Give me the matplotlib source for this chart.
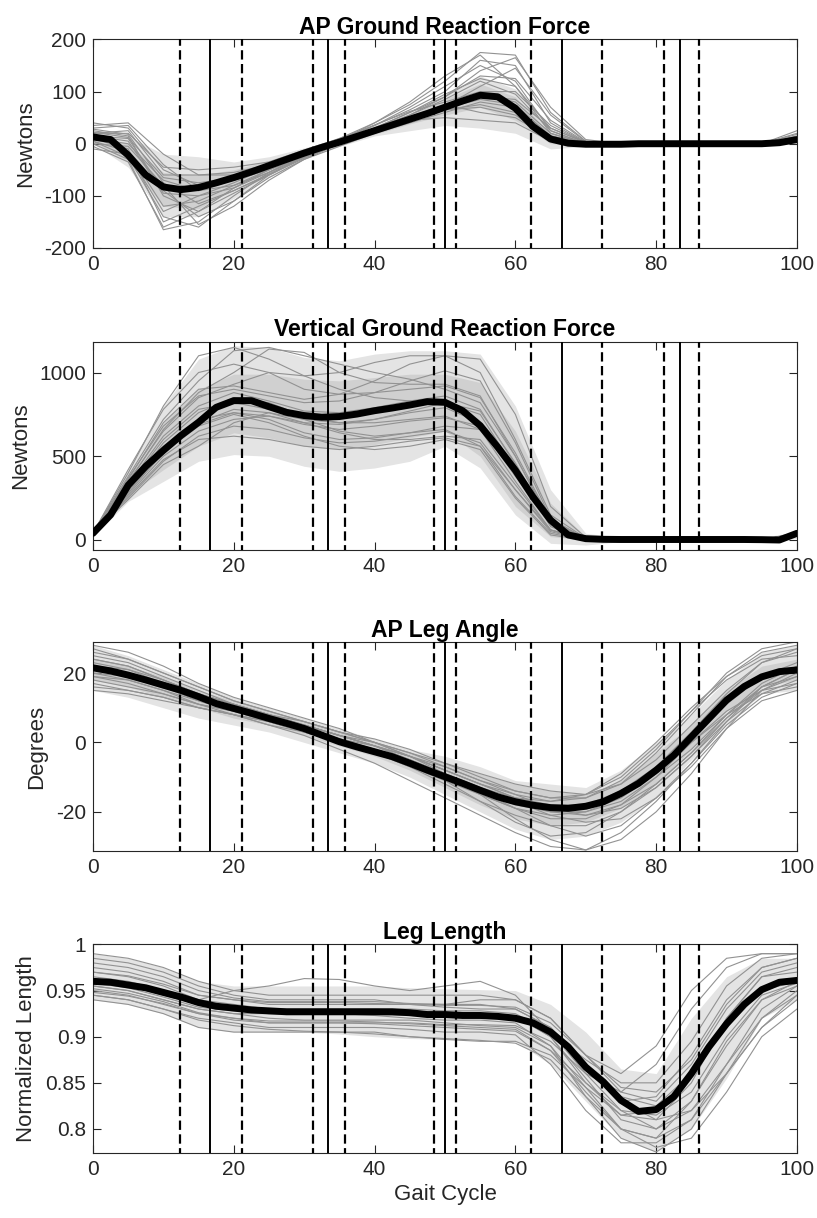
"""Gait cycle summary: GRFs, leg angle and leg length with event markers."""

import numpy as np
from matplotlib import pyplot as plt

plt.rcParams['font.family'] = ['Liberation Sans', 'DejaVu Sans']

# mean curves sampled every 2.5 % of the gait cycle
mean_x = np.arange(0, 100.1, 2.5)
# individual trials and bands sampled every 5 %
trial_x = np.arange(0, 100.1, 5)

solid_events = [16.67, 33.33, 50.0, 66.67, 83.33]
dashed_events = [12.4, 21.2, 31.2, 35.8, 48.5, 51.6, 62.2, 72.3, 81.1, 86.1]

# ---- AP ground reaction force ----
ap_grf_mean = [13, 8, -22, -60, -83, -88, -84, -75, -65, -54, -42, -30, -18, -7, 3, 14,
               25, 36, 47, 58, 70, 82, 93, 90, 68, 33, 9, 1, -1, -1, -1, 0, 0, 0, 0, 0,
               0, 0, 0, 2, 8]
ap_grf_outer_hi = [25, 15, -20, -25, -35, -25, -8, 10, 35, 60, 95, 130, 105, 30, 3, 3, 3, 3, 3, 3, 15]
ap_grf_outer_lo = [0, -45, -140, -140, -105, -65, -30, -5, 15, 25, 35, 30, 20, -10, -5, -3, -3, -3, -3, -3, 0]
ap_grf_inner_hi = [18, 0, -55, -60, -50, -32, -12, 8, 30, 55, 85, 115, 90, 20, 2, 2, 2, 2, 2, 2, 12]
ap_grf_inner_lo = [5, -35, -120, -125, -85, -52, -25, -2, 18, 38, 55, 70, 45, 0, -2, -2, -2, -2, -2, -2, 3]
ap_grf_trials = [
    [10, -10, -150, -120, -90, -60, -25, 5, 40, 80, 130, 170, 110, 20, 0, 0, 0, 0, 0, 0, 15],
    [30, 35, -40, -90, -80, -55, -25, 0, 20, 40, 60, 80, 70, 15, 0, 0, 0, 0, 0, 0, 5],
    [0, -30, -165, -150, -100, -55, -20, 5, 35, 65, 100, 160, 150, 40, 2, 0, 0, 0, 0, 0, 10],
    [20, 25, -60, -60, -55, -40, -15, 5, 25, 45, 65, 75, 60, 10, 0, 0, 0, 0, 0, 0, 5],
    [5, -15, -120, -110, -80, -50, -20, 5, 30, 55, 85, 120, 95, 25, 0, 0, 0, 0, 0, 0, 20],
    [15, 10, -90, -140, -110, -65, -30, -5, 20, 45, 70, 90, 85, 30, 2, 0, 0, 0, 0, 0, 5],
    [40, 30, -50, -80, -70, -50, -25, 0, 25, 50, 75, 60, 50, 10, 0, 0, 0, 0, 0, 0, 3],
    [-10, -20, -130, -100, -75, -45, -15, 10, 40, 75, 120, 175, 170, 60, 5, 0, 0, 0, 0, 0, 25],
    [10, 0, -70, -90, -70, -48, -22, 2, 28, 52, 75, 95, 80, 20, 0, 0, 0, 0, 0, 0, 8],
    [25, 15, -100, -130, -95, -60, -28, 0, 22, 45, 50, 45, 40, 5, 0, 0, 0, 0, 0, 0, 5],
    [0, -5, -80, -155, -120, -70, -30, 0, 30, 60, 90, 140, 165, 70, 8, 0, 0, 0, 0, 0, 12],
    [20, 20, -45, -50, -45, -35, -12, 10, 35, 70, 110, 150, 120, 25, 0, 0, 0, 0, 0, 0, 5],
    [35, 40, -20, -60, -60, -45, -20, 0, 22, 45, 68, 85, 75, 15, 0, 0, 0, 0, 0, 0, 3],
    [5, -25, -140, -160, -110, -60, -25, 0, 30, 60, 95, 125, 110, 30, 2, 0, 0, 0, 0, 0, 18],
    [15, 5, -95, -100, -85, -55, -25, 0, 25, 55, 90, 130, 125, 45, 3, 0, 0, 0, 0, 0, 8],
    [28, 18, -75, -115, -90, -58, -26, 0, 26, 48, 65, 70, 55, 8, 0, 0, 0, 0, 0, 0, 5],
    [-5, -35, -160, -130, -85, -50, -18, 8, 36, 62, 80, 100, 100, 35, 2, 0, 0, 0, 0, 0, 10],
    [22, 12, -65, -75, -65, -45, -20, 3, 27, 50, 72, 110, 145, 55, 4, 0, 0, 0, 0, 0, 6],
]

# ---- vertical ground reaction force ----
v_grf_mean = [40, 150, 327, 440, 535, 624, 703, 792, 832, 832, 796, 762, 743, 733, 737,
              752, 772, 788, 806, 826, 822, 772, 683, 554, 416, 257, 119, 30, 8, 4, 3, 3,
              3, 3, 3, 3, 3, 3, 2, 0, 40]
v_grf_outer_hi = [60, 420, 800, 1080, 1160, 1150, 1090, 1070, 1110, 1130, 1130, 1110, 800, 300, 40, 15, 15, 15, 15, 15, 50]
v_grf_outer_lo = [20, 230, 350, 470, 510, 500, 440, 410, 430, 470, 560, 430, 150, -20, -30, -10, -10, -10, -10, -10, 10]
v_grf_inner_hi = [50, 380, 700, 900, 990, 990, 960, 950, 970, 990, 990, 940, 650, 220, 20, 8, 8, 8, 8, 8, 45]
v_grf_inner_lo = [30, 270, 420, 560, 640, 610, 560, 540, 570, 610, 650, 500, 200, 20, 0, 0, 0, 0, 0, 0, 20]
v_grf_trials = [
    [40, 400, 800, 1100, 1150, 1080, 980, 1000, 1060, 1100, 1100, 1000, 600, 150, 10, 0, 0, 0, 0, 0, 30],
    [40, 300, 550, 700, 780, 760, 700, 690, 720, 760, 790, 700, 400, 100, 5, 0, 0, 0, 0, 0, 40],
    [40, 260, 480, 600, 620, 600, 560, 540, 560, 590, 610, 560, 300, 60, 5, 0, 0, 0, 0, 0, 30],
    [40, 380, 720, 950, 1130, 1150, 1100, 1050, 1000, 960, 900, 820, 500, 100, 5, 0, 0, 0, 0, 0, 40],
    [40, 330, 620, 800, 880, 830, 770, 760, 790, 830, 860, 780, 450, 90, 5, 0, 0, 0, 0, 0, 40],
    [40, 240, 450, 560, 700, 760, 720, 650, 620, 640, 660, 560, 260, 40, 0, 0, 0, 0, 0, 0, 30],
    [40, 360, 700, 900, 920, 880, 840, 870, 950, 1050, 1100, 1080, 750, 200, 15, 0, 0, 0, 0, 0, 40],
    [40, 300, 580, 760, 850, 820, 740, 700, 700, 720, 740, 660, 350, 60, 0, 0, 0, 0, 0, 0, 30],
    [40, 280, 520, 680, 750, 700, 620, 560, 540, 560, 600, 540, 250, 30, 0, 0, 0, 0, 0, 0, 35],
    [40, 420, 780, 1000, 1050, 1000, 900, 870, 880, 900, 920, 850, 520, 120, 5, 0, 0, 0, 0, 0, 45],
    [40, 350, 650, 850, 930, 1000, 980, 900, 850, 830, 820, 750, 420, 80, 2, 0, 0, 0, 0, 0, 35],
    [40, 310, 560, 720, 760, 740, 690, 660, 680, 710, 730, 680, 380, 100, 8, 0, 0, 0, 0, 0, 30],
    [40, 270, 500, 650, 720, 740, 700, 640, 600, 600, 620, 600, 330, 60, 3, 0, 0, 0, 0, 0, 35],
    [40, 340, 660, 880, 1000, 1140, 1120, 1000, 940, 930, 930, 860, 500, 110, 5, 0, 0, 0, 0, 0, 40],
    [40, 290, 530, 690, 760, 720, 640, 600, 610, 640, 680, 660, 420, 120, 10, 0, 0, 0, 0, 0, 30],
    [40, 370, 680, 860, 900, 860, 820, 830, 880, 950, 1010, 950, 580, 130, 5, 0, 0, 0, 0, 0, 40],
    [40, 320, 600, 780, 820, 780, 720, 700, 720, 770, 820, 770, 460, 90, 5, 0, 0, 0, 0, 0, 35],
    [40, 250, 470, 620, 680, 660, 610, 580, 590, 620, 650, 580, 300, 50, 0, 0, 0, 0, 0, 0, 30],
]

# ---- AP leg angle ----
angle_mean = [21.5, 20.6, 19.4, 18.0, 16.5, 15.0, 13.2, 11.2, 9.8, 8.4, 6.9, 5.5, 4.0, 2.1,
              0.2, -1.3, -2.7, -4.1, -6.0, -8.0, -9.9, -11.8, -13.8, -15.7, -17.1, -18.1,
              -18.8, -19.0, -18.4, -17.1, -14.7, -11.8, -8.0, -3.7, 1.6, 6.9, 12.2, 16.1,
              18.9, 20.4, 20.9]
angle_outer_hi = [28, 25, 21, 17, 13, 10, 7, 4, 1, -2, -4, -7, -11, -12, -13, -8, 0, 8, 18, 26, 28]
angle_outer_lo = [15, 13, 10, 7, 5, 3, 0, -3, -6, -10, -15, -20, -25, -28, -27, -23, -16, -5, 5, 14, 15]
angle_inner_hi = [24, 22, 19, 15, 12, 9, 6, 3, 0, -3, -6, -9, -12, -14, -15, -11, -3, 5, 15, 22, 24]
angle_inner_lo = [18, 16, 13, 10, 7, 5, 2, -1, -4, -8, -13, -18, -22, -24, -23, -19, -12, -2, 9, 16, 18]
angle_trials = [
    [27, 24, 20, 16, 12, 9, 6, 3, 0, -3, -6, -9, -12, -14, -15, -12, -5, 5, 15, 23, 27],
    [17, 15, 13, 10, 8, 6, 3, 0, -3, -7, -11, -15, -19, -22, -22, -18, -10, 0, 9, 15, 17],
    [22, 20, 17, 13, 10, 7, 4, 1, -2, -6, -11, -17, -23, -27, -26, -20, -12, -3, 7, 15, 20],
    [25, 23, 19, 15, 11, 8, 5, 2, -1, -4, -8, -12, -16, -18, -18, -14, -7, 3, 14, 23, 26],
    [19, 18, 15, 12, 9, 7, 5, 2, 0, -4, -9, -15, -22, -28, -31, -28, -20, -9, 4, 15, 19],
    [23, 21, 17, 13, 10, 8, 6, 3, 1, -2, -6, -10, -14, -16, -16, -12, -3, 8, 19, 26, 28],
    [20, 18, 15, 11, 8, 5, 2, -2, -6, -11, -16, -21, -26, -30, -31, -26, -17, -6, 6, 16, 21],
    [24, 22, 18, 14, 11, 8, 5, 2, -1, -5, -9, -13, -17, -20, -21, -18, -12, -3, 8, 17, 22],
    [15, 14, 12, 10, 8, 6, 4, 1, -1, -4, -8, -12, -16, -19, -19, -15, -9, 0, 8, 14, 16],
    [21, 20, 17, 13, 10, 7, 4, 1, -2, -5, -9, -13, -16, -17, -15, -9, 0, 10, 19, 25, 27],
    [26, 24, 20, 16, 12, 9, 6, 3, 0, -3, -7, -11, -15, -19, -21, -19, -13, -4, 7, 16, 21],
    [18, 16, 14, 11, 9, 6, 3, 0, -3, -6, -10, -14, -18, -20, -20, -17, -10, -2, 8, 16, 19],
    [28, 26, 22, 17, 13, 10, 7, 4, 0, -4, -8, -12, -15, -17, -16, -11, -2, 9, 20, 27, 29],
    [20, 19, 16, 12, 9, 6, 3, 0, -3, -7, -12, -17, -21, -24, -24, -20, -13, -4, 6, 14, 18],
    [16, 15, 13, 10, 8, 5, 3, 0, -2, -5, -9, -13, -17, -21, -23, -22, -16, -7, 4, 12, 15],
    [24, 22, 18, 14, 11, 8, 5, 2, -1, -4, -7, -11, -14, -16, -15, -10, -1, 9, 18, 24, 25],
    [22, 21, 18, 14, 11, 8, 5, 2, -1, -5, -10, -15, -19, -21, -20, -16, -9, 1, 11, 19, 23],
    [19, 17, 14, 11, 9, 7, 4, 1, -2, -6, -10, -14, -19, -24, -27, -24, -16, -6, 5, 13, 17],
]

# ---- leg length ----
length_mean = [0.960, 0.959, 0.956, 0.953, 0.948, 0.943, 0.937, 0.933, 0.931, 0.929, 0.928,
               0.927, 0.927, 0.927, 0.927, 0.927, 0.927, 0.927, 0.926, 0.924, 0.924, 0.923,
               0.923, 0.922, 0.920, 0.915, 0.905, 0.889, 0.867, 0.851, 0.831, 0.819, 0.821,
               0.835, 0.860, 0.889, 0.914, 0.935, 0.951, 0.959, 0.961]
length_outer_hi = [0.99, 0.985, 0.975, 0.96, 0.955, 0.955, 0.955, 0.955, 0.955, 0.953, 0.952,
                   0.951, 0.95, 0.935, 0.905, 0.865, 0.86, 0.92, 0.965, 0.985, 0.985]
length_outer_lo = [0.94, 0.935, 0.925, 0.91, 0.905, 0.905, 0.905, 0.903, 0.9, 0.898, 0.897,
                   0.897, 0.895, 0.87, 0.83, 0.79, 0.775, 0.80, 0.855, 0.92, 0.94]
length_trials = [
    [0.975, 0.97, 0.96, 0.945, 0.94, 0.935, 0.935, 0.935, 0.935, 0.935, 0.935, 0.935, 0.93, 0.91, 0.87, 0.835, 0.825, 0.86, 0.92, 0.965, 0.975],
    [0.95, 0.945, 0.935, 0.925, 0.92, 0.915, 0.915, 0.915, 0.915, 0.915, 0.913, 0.913, 0.912, 0.895, 0.86, 0.82, 0.80, 0.82, 0.87, 0.92, 0.945],
    [0.965, 0.96, 0.95, 0.94, 0.95, 0.955, 0.963, 0.962, 0.955, 0.95, 0.955, 0.96, 0.945, 0.905, 0.86, 0.84, 0.87, 0.93, 0.975, 0.99, 0.99],
    [0.94, 0.935, 0.925, 0.91, 0.905, 0.905, 0.905, 0.905, 0.905, 0.9, 0.897, 0.895, 0.895, 0.88, 0.845, 0.80, 0.78, 0.79, 0.84, 0.90, 0.93],
    [0.985, 0.98, 0.97, 0.955, 0.945, 0.94, 0.94, 0.94, 0.94, 0.935, 0.932, 0.93, 0.93, 0.91, 0.865, 0.83, 0.835, 0.88, 0.94, 0.975, 0.985],
    [0.955, 0.95, 0.94, 0.93, 0.925, 0.925, 0.925, 0.925, 0.923, 0.92, 0.918, 0.918, 0.915, 0.89, 0.845, 0.815, 0.82, 0.86, 0.91, 0.95, 0.96],
    [0.945, 0.94, 0.93, 0.92, 0.915, 0.91, 0.91, 0.91, 0.91, 0.908, 0.905, 0.905, 0.902, 0.87, 0.82, 0.785, 0.785, 0.81, 0.87, 0.93, 0.955],
    [0.97, 0.965, 0.955, 0.94, 0.935, 0.93, 0.93, 0.93, 0.93, 0.93, 0.928, 0.928, 0.925, 0.905, 0.875, 0.85, 0.85, 0.895, 0.955, 0.985, 0.99],
    [0.96, 0.955, 0.945, 0.935, 0.93, 0.928, 0.928, 0.928, 0.926, 0.925, 0.924, 0.924, 0.922, 0.9, 0.855, 0.81, 0.80, 0.83, 0.89, 0.94, 0.96],
    [0.948, 0.944, 0.936, 0.925, 0.918, 0.915, 0.915, 0.915, 0.914, 0.912, 0.91, 0.908, 0.906, 0.885, 0.85, 0.82, 0.815, 0.84, 0.90, 0.945, 0.958],
    [0.98, 0.975, 0.965, 0.95, 0.942, 0.938, 0.938, 0.938, 0.938, 0.936, 0.935, 0.94, 0.94, 0.92, 0.88, 0.86, 0.89, 0.95, 0.985, 0.99, 0.99],
    [0.955, 0.95, 0.94, 0.93, 0.925, 0.92, 0.918, 0.918, 0.918, 0.918, 0.915, 0.912, 0.91, 0.89, 0.835, 0.79, 0.775, 0.80, 0.86, 0.92, 0.95],
    [0.99, 0.985, 0.975, 0.96, 0.95, 0.945, 0.945, 0.945, 0.945, 0.945, 0.945, 0.945, 0.94, 0.92, 0.88, 0.84, 0.83, 0.87, 0.93, 0.97, 0.98],
    [0.945, 0.94, 0.93, 0.918, 0.912, 0.908, 0.906, 0.905, 0.903, 0.9, 0.898, 0.896, 0.893, 0.875, 0.835, 0.80, 0.79, 0.81, 0.86, 0.91, 0.94],
    [0.962, 0.957, 0.948, 0.937, 0.932, 0.93, 0.93, 0.93, 0.93, 0.928, 0.926, 0.925, 0.923, 0.9, 0.85, 0.815, 0.81, 0.85, 0.92, 0.965, 0.97],
    [0.958, 0.953, 0.943, 0.932, 0.928, 0.925, 0.925, 0.925, 0.924, 0.923, 0.922, 0.922, 0.92, 0.905, 0.87, 0.83, 0.81, 0.82, 0.86, 0.91, 0.945],
    [0.97, 0.966, 0.957, 0.945, 0.94, 0.937, 0.937, 0.937, 0.936, 0.935, 0.934, 0.934, 0.932, 0.915, 0.88, 0.845, 0.84, 0.875, 0.935, 0.975, 0.985],
    [0.952, 0.947, 0.938, 0.926, 0.92, 0.917, 0.917, 0.917, 0.916, 0.914, 0.912, 0.91, 0.908, 0.885, 0.84, 0.80, 0.79, 0.83, 0.895, 0.94, 0.955],
]

panels = [
    dict(title="AP Ground Reaction Force", ylabel="Newtons", mean=ap_grf_mean,
         outer=(ap_grf_outer_lo, ap_grf_outer_hi), inner=(ap_grf_inner_lo, ap_grf_inner_hi),
         trials=ap_grf_trials, ylim=(-200, 200), yticks=[-200, -100, 0, 100, 200],
         yticklabels=["-200", "-100", "0", "100", "200"]),
    dict(title="Vertical Ground Reaction Force", ylabel="Newtons", mean=v_grf_mean,
         outer=(v_grf_outer_lo, v_grf_outer_hi), inner=(v_grf_inner_lo, v_grf_inner_hi),
         trials=v_grf_trials, ylim=(-60, 1185), yticks=[0, 500, 1000],
         yticklabels=["0", "500", "1000"]),
    dict(title="AP Leg Angle", ylabel="Degrees", mean=angle_mean,
         outer=(angle_outer_lo, angle_outer_hi), inner=(angle_inner_lo, angle_inner_hi),
         trials=angle_trials, ylim=(-31.3, 28.8), yticks=[-20, 0, 20],
         yticklabels=["-20", "0", "20"]),
    dict(title="Leg Length", ylabel="Normalized Length", mean=length_mean,
         outer=(length_outer_lo, length_outer_hi), inner=None,
         trials=length_trials, ylim=(0.774, 1.0), yticks=[0.8, 0.85, 0.9, 0.95, 1.0],
         yticklabels=["0.8", "0.85", "0.9", "0.95", "1"]),
]

fig = plt.figure(figsize=(8.17, 12.18), dpi=100)
bottoms = [0.7964, 0.5484, 0.3013, 0.0534]

for p, bottom in zip(panels, bottoms):
    ax = fig.add_axes([0.1138, bottom, 0.8617, 0.1712])

    ax.fill_between(trial_x, p["outer"][0], p["outer"][1], color="#e4e4e4", lw=0, zorder=1)
    if p["inner"] is not None:
        ax.fill_between(trial_x, p["inner"][0], p["inner"][1], color="#d0d0d0", lw=0, zorder=1)
    for tr in p["trials"]:
        ax.plot(trial_x, tr, color="#929292", lw=0.8, solid_joinstyle="round", zorder=2)

    for ev in solid_events:
        ax.axvline(ev, color="black", lw=1.4, zorder=3)
    for ev in dashed_events:
        ax.axvline(ev, color="black", lw=1.6, ls=(2, (4.2, 2.0)), zorder=3)

    ax.plot(mean_x, p["mean"], color="black", lw=5, solid_capstyle="round",
            solid_joinstyle="round", zorder=4)

    ax.set_xlim(0, 100)
    ax.set_ylim(*p["ylim"])
    ax.set_xticks([0, 20, 40, 60, 80, 100])
    ax.set_yticks(p["yticks"])
    ax.set_yticklabels(p["yticklabels"])
    ax.tick_params(direction="in", top=True, right=True, length=6, width=0.8,
                   labelsize=15, colors="#262626", pad=5)
    for sp in ax.spines.values():
        sp.set_color("#262626")
        sp.set_linewidth(0.8)
    ax.set_title(p["title"], fontsize=16.5, fontweight="bold", pad=4)
    ax.set_ylabel(p["ylabel"], fontsize=16, color="#262626", labelpad=6)

ax.set_xlabel("Gait Cycle", fontsize=16, color="#262626")

fig.savefig("out.png", dpi=100)
